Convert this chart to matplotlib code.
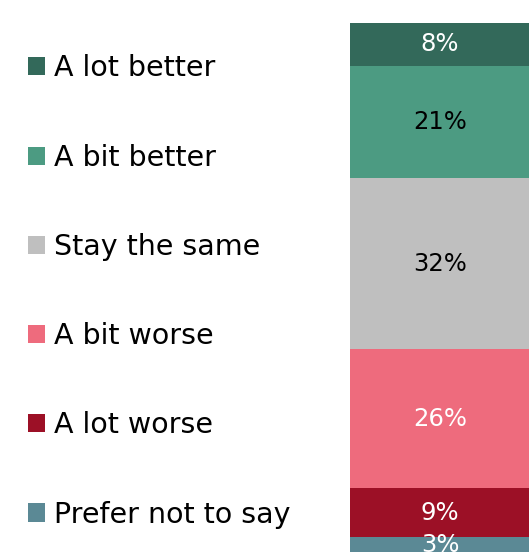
import matplotlib.pyplot as plt
import numpy as np
from matplotlib.patches import Patch

categories = ['A lot better', 'A bit better', 'Stay the same',
              'A bit worse', 'A lot worse', 'Prefer not to say']
values = [8, 21, 32, 26, 9, 3]
colors = ['#33695A', '#4C9B82', '#BFBFBF', '#EE6B7D', '#9C1026', '#5B8995']
label_colors = ['white', 'black', 'black', 'white', 'white', 'white']

plt.rcParams['font.family'] = ['DejaVu Sans']

fig = plt.figure(figsize=(5.29, 5.52), dpi=100)
ax = fig.add_axes([0, 0, 1, 1])

px = 5.35  # pixels per percent
ax.set_ylim((552 - 23) / px, -23 / px)
left = -0.5 - 350 / 180
ax.set_xlim(left, left + 529 / 180)
ax.axis('off')

bottoms = np.concatenate([[0], np.cumsum(values)[:-1]])
for v, b, c, lc in zip(values, bottoms, colors, label_colors):
    ax.bar(0, v, bottom=b, width=1, color=c, linewidth=0)
    ax.text(0, b + v / 2, f'{v}%', ha='center', va='center',
            color=lc, fontsize=17.5)

handles = [Patch(facecolor=c, edgecolor='none') for c in colors]
fig.legend(handles, categories, loc='upper left', bbox_to_anchor=(0.032, 0.922),
           frameon=False, fontsize=20.5, handlelength=0.6, handleheight=0.6,
           handletextpad=0.3, labelspacing=2.15, borderaxespad=0)

fig.savefig('out.png', dpi=100)
